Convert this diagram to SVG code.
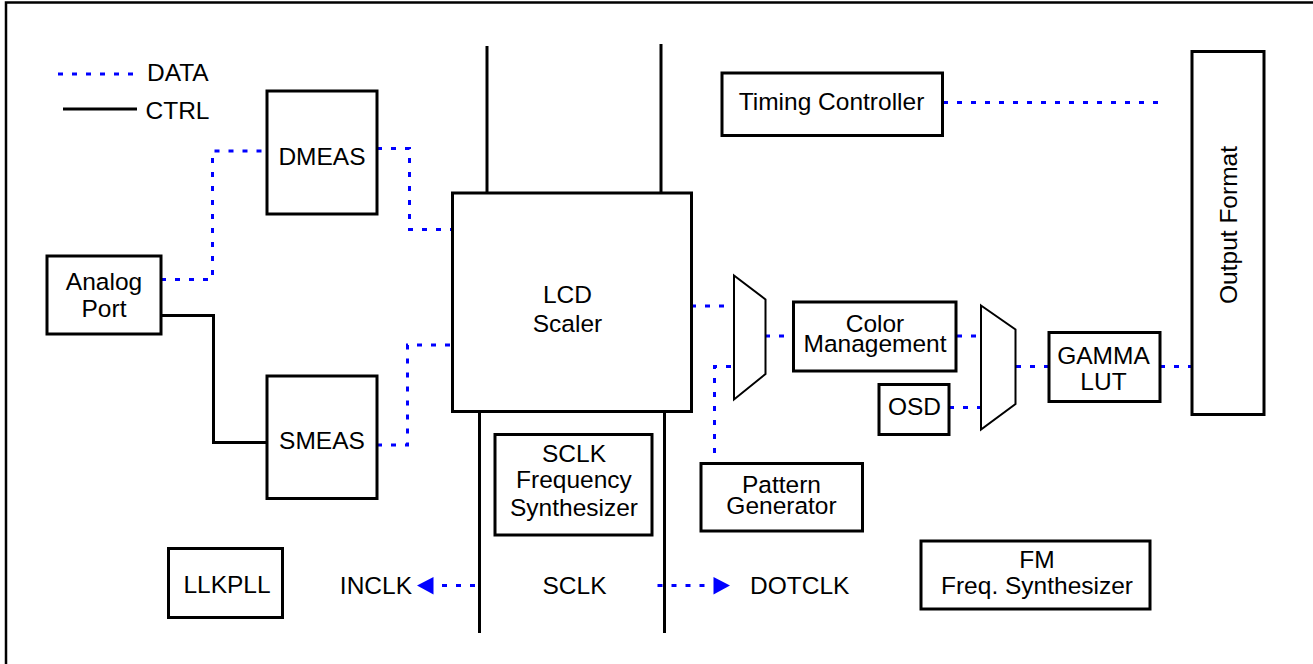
<svg xmlns="http://www.w3.org/2000/svg" width="1313" height="664" viewBox="0 0 1313 664">
<style>
.box{fill:#fff;stroke:#000;stroke-width:3}
.mux{fill:#fff;stroke:#000;stroke-width:2}
.ctrl{fill:none;stroke:#000;stroke-width:3}
.data{fill:none;stroke:#0000ff;stroke-width:3;stroke-dasharray:5 9}
.arrow{fill:#0000ff}
text{font-family:"Liberation Sans",Arial,Helvetica,sans-serif;font-size:24.5px;fill:#000}
.m{text-anchor:middle}
</style>
<rect width="1313" height="664" fill="#fff"/>
<g id="frame">
<path d="M6 664 V2.5 H1313" fill="none" stroke="#000" stroke-width="2.5"/>
</g>
<g id="legend">
<line class="data" x1="58" y1="74" x2="133" y2="74"/>
<text x="147" y="81">DATA</text>
<line class="ctrl" x1="63" y1="109" x2="137" y2="109"/>
<text x="145.5" y="118.5">CTRL</text>
</g>
<g id="connectors">
<line class="ctrl" x1="487" y1="46" x2="487" y2="194"/>
<line class="ctrl" x1="661" y1="44" x2="661" y2="194"/>
<line class="ctrl" x1="479.5" y1="411" x2="479.5" y2="633"/>
<line class="ctrl" x1="664.5" y1="411" x2="664.5" y2="633"/>
<polyline class="ctrl" points="161,315.5 213.5,315.5 213.5,442.5 267,442.5"/>
<polyline class="data" points="161,279.5 212.5,279.5 212.5,151 267,151"/>
<polyline class="data" points="377,148.5 409.5,148.5 409.5,229.5 452,229.5"/>
<polyline class="data" points="377,445 407.5,445 407.5,345 452,345"/>
<line class="data" x1="691" y1="306" x2="734" y2="306"/>
<line class="data" x1="765" y1="336" x2="793" y2="336"/>
<polyline class="data" points="714.5,453 714.5,366.5 734,366.5"/>
<line class="data" x1="957" y1="336" x2="981" y2="336"/>
<line class="data" x1="949" y1="407.5" x2="981" y2="407.5"/>
<line class="data" x1="1016" y1="366.5" x2="1049" y2="366.5"/>
<line class="data" x1="1160" y1="366.5" x2="1192" y2="366.5"/>
<line class="data" x1="943" y1="102.5" x2="1166" y2="102.5"/>
<line class="data" x1="475" y1="585.5" x2="432" y2="585.5"/>
<polygon class="arrow" points="417,585.5 433.5,577 433.5,594.5"/>
<line class="data" x1="657.5" y1="585.5" x2="713" y2="585.5"/>
<polygon class="arrow" points="730,585.5 713.5,577 713.5,594.5"/>
</g>
<g id="dmeas"><rect class="box" x="267" y="91" width="110" height="123"/><text class="m" x="322" y="165">DMEAS</text></g>
<g id="analog-port"><rect class="box" x="47" y="256" width="114" height="78"/><text class="m" x="104" y="290">Analog</text><text class="m" x="104" y="317">Port</text></g>
<g id="smeas"><rect class="box" x="267" y="376" width="110" height="122.5"/><text class="m" x="322" y="448.5">SMEAS</text></g>
<g id="llkpll"><rect class="box" x="168.5" y="548.5" width="114" height="69"/><text class="m" x="227" y="593">LLKPLL</text></g>
<g id="lcd-scaler"><rect class="box" x="452.5" y="193" width="239" height="218.5"/><text class="m" x="567.5" y="303">LCD</text><text class="m" x="567.5" y="331.5">Scaler</text></g>
<g id="sclk-synth"><rect class="box" x="495" y="434.5" width="157" height="100.5"/><text class="m" x="574" y="462">SCLK</text><text class="m" x="574" y="488">Frequency</text><text class="m" x="574" y="515.5">Synthesizer</text></g>
<g id="sclk"><text class="m" x="574.5" y="593.5">SCLK</text></g>
<g id="inclk"><text x="412" y="593.5" text-anchor="end">INCLK</text></g>
<g id="dotclk"><text x="750" y="593.5">DOTCLK</text></g>
<g id="timing-controller"><rect class="box" x="722" y="73" width="220.5" height="62.5"/><text class="m" x="831.5" y="109.5">Timing Controller</text></g>
<g id="output-format"><rect class="box" x="1192" y="51.5" width="72" height="363"/><text class="m" transform="translate(1236.5 225) rotate(-90)">Output Format</text></g>
<g id="mux1"><polygon class="mux" points="734,275.5 765.5,299.5 765.5,374 734,399.5"/></g>
<g id="color-management"><rect class="box" x="793.5" y="302" width="162.5" height="69"/><text class="m" x="875" y="331.5">Color</text><text class="m" x="875" y="351.5">Management</text></g>
<g id="pattern-generator"><rect class="box" x="701" y="463.5" width="161.5" height="67.5"/><text class="m" x="781.5" y="492.5">Pattern</text><text class="m" x="781.5" y="513.5">Generator</text></g>
<g id="osd"><rect class="box" x="879" y="384.5" width="70" height="50"/><text class="m" x="914.5" y="415">OSD</text></g>
<g id="mux2"><polygon class="mux" points="981,305.5 1015.5,329.5 1015.5,404 981,429.5"/></g>
<g id="gamma-lut"><rect class="box" x="1049" y="332.5" width="111" height="69"/><text class="m" x="1103.5" y="363.5">GAMMA</text><text class="m" x="1103.5" y="389.5">LUT</text></g>
<g id="fm-synth"><rect class="box" x="921" y="541" width="229" height="68"/><text class="m" x="1037" y="567.5">FM</text><text class="m" x="1037" y="593.5">Freq. Synthesizer</text></g>
</svg>
